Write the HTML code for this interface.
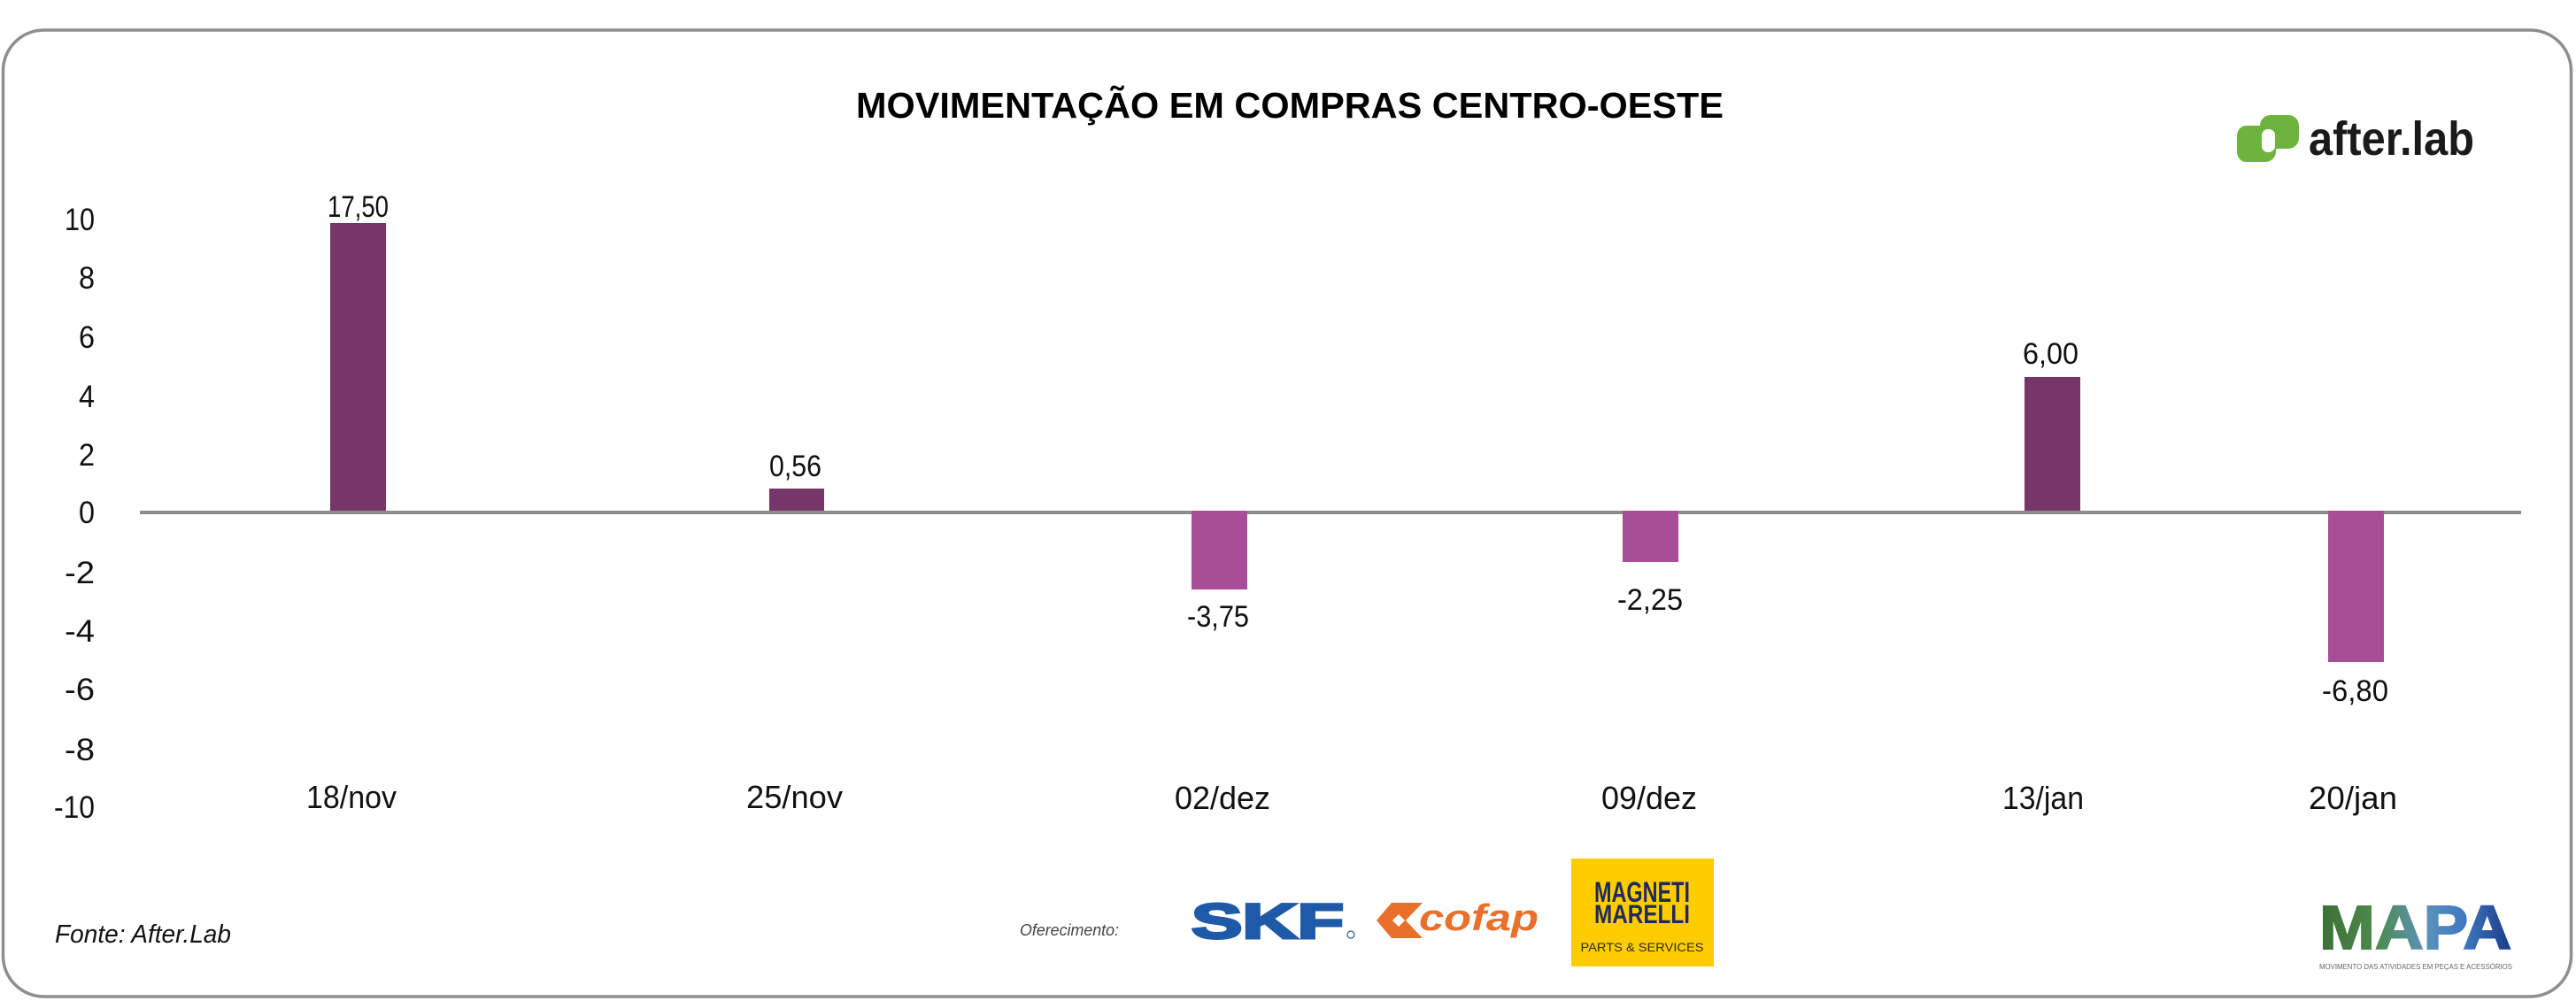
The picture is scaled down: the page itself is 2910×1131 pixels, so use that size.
<!DOCTYPE html>
<html>
<head>
<meta charset="utf-8">
<style>
  html,body{margin:0;padding:0;background:#fff;}
  svg{display:block;}
  text{font-family:"Liberation Sans",sans-serif;}
</style>
</head>
<body>
<svg width="2910" height="1131" viewBox="0 0 2910 1131" xmlns="http://www.w3.org/2000/svg">
  <defs>
    <linearGradient id="mapa" x1="2620" y1="0" x2="2837" y2="0" gradientUnits="userSpaceOnUse">
      <stop offset="0" stop-color="#3c6f35"/>
      <stop offset="0.3" stop-color="#4d8a4f"/>
      <stop offset="0.55" stop-color="#5b93b8"/>
      <stop offset="0.75" stop-color="#3f79c2"/>
      <stop offset="1" stop-color="#1c3a86"/>
    </linearGradient>
  </defs>
  <rect x="0" y="0" width="2910" height="1131" fill="#fff"/>
  <!-- border -->
  <rect x="3.5" y="34" width="2901" height="1092" rx="46" ry="46" fill="none" stroke="#8e8e8e" stroke-width="3.5"/>

  <!-- title -->
  <text x="967" y="133" font-size="41" font-weight="bold" fill="#000" textLength="980" lengthAdjust="spacingAndGlyphs">MOVIMENTAÇÃO EM COMPRAS CENTRO-OESTE</text>

  <!-- after.lab logo -->
  <rect x="2527" y="142" width="44" height="41" rx="12" fill="#6db43e"/>
  <rect x="2527" y="142" width="20" height="41" fill="#6db43e" rx="12"/>
  <rect x="2553" y="130" width="44" height="38" rx="12" fill="#6db43e"/>
  <rect x="2555" y="146" width="15" height="26" rx="7" fill="#fff"/>
  <text x="2608" y="175" font-size="54" font-weight="bold" fill="#1a1a1a" textLength="187" lengthAdjust="spacingAndGlyphs">after.lab</text>

  <!-- y axis labels -->
  <g font-size="35" fill="#111" text-anchor="end">
    <text x="107" y="260" textLength="34" lengthAdjust="spacingAndGlyphs">10</text>
    <text x="107" y="326" textLength="18" lengthAdjust="spacingAndGlyphs">8</text>
    <text x="107" y="393" textLength="18" lengthAdjust="spacingAndGlyphs">6</text>
    <text x="107" y="460" textLength="18" lengthAdjust="spacingAndGlyphs">4</text>
    <text x="107" y="526" textLength="18" lengthAdjust="spacingAndGlyphs">2</text>
    <text x="107" y="591" textLength="18" lengthAdjust="spacingAndGlyphs">0</text>
    <text x="107" y="659" textLength="34" lengthAdjust="spacingAndGlyphs">-2</text>
    <text x="107" y="725" textLength="34" lengthAdjust="spacingAndGlyphs">-4</text>
    <text x="107" y="791" textLength="34" lengthAdjust="spacingAndGlyphs">-6</text>
    <text x="107" y="859" textLength="34" lengthAdjust="spacingAndGlyphs">-8</text>
    <text x="107" y="924" textLength="46" lengthAdjust="spacingAndGlyphs">-10</text>
  </g>

  <!-- positive bars -->
  <rect x="373" y="252" width="63" height="326" fill="#76366a"/>
  <rect x="869" y="552" width="62" height="26" fill="#76366a"/>
  <rect x="2287" y="426" width="63" height="152" fill="#76366a"/>

  <!-- zero line -->
  <line x1="158" y1="579" x2="2848" y2="579" stroke="#8c8c8c" stroke-width="4"/>

  <!-- negative bars -->
  <rect x="1346" y="577" width="63" height="89" fill="#a74e97"/>
  <rect x="1833" y="577" width="63" height="58" fill="#a74e97"/>
  <rect x="2630" y="577" width="63" height="171" fill="#a74e97"/>

  <!-- data labels -->
  <g font-size="34" fill="#111" text-anchor="middle">
    <text x="404.5" y="245" textLength="69" lengthAdjust="spacingAndGlyphs">17,50</text>
    <text x="898.5" y="538" textLength="59" lengthAdjust="spacingAndGlyphs">0,56</text>
    <text x="1376" y="708" textLength="70" lengthAdjust="spacingAndGlyphs">-3,75</text>
    <text x="1864" y="689" textLength="74" lengthAdjust="spacingAndGlyphs">-2,25</text>
    <text x="2316.5" y="411" textLength="63" lengthAdjust="spacingAndGlyphs">6,00</text>
    <text x="2660.5" y="792" textLength="75" lengthAdjust="spacingAndGlyphs">-6,80</text>
  </g>

  <!-- x labels -->
  <g font-size="36" fill="#111" text-anchor="middle">
    <text x="397" y="913" textLength="102" lengthAdjust="spacingAndGlyphs">18/nov</text>
    <text x="897.5" y="913" textLength="109" lengthAdjust="spacingAndGlyphs">25/nov</text>
    <text x="1381" y="914" textLength="108" lengthAdjust="spacingAndGlyphs">02/dez</text>
    <text x="1863" y="914" textLength="108" lengthAdjust="spacingAndGlyphs">09/dez</text>
    <text x="2308" y="914" textLength="92" lengthAdjust="spacingAndGlyphs">13/jan</text>
    <text x="2658" y="914" textLength="100" lengthAdjust="spacingAndGlyphs">20/jan</text>
  </g>

  <!-- source -->
  <text x="62" y="1065" font-size="29" font-style="italic" fill="#111" textLength="199" lengthAdjust="spacingAndGlyphs">Fonte: After.Lab</text>

  <!-- sponsors -->
  <text x="1152" y="1057" font-size="18" font-style="italic" fill="#444" textLength="112" lengthAdjust="spacingAndGlyphs">Oferecimento:</text>

  <!-- SKF -->
  <text x="1346" y="1060" font-size="56" font-weight="bold" fill="#1f5aa8" stroke="#1f5aa8" stroke-width="3" textLength="172" lengthAdjust="spacingAndGlyphs">SKF</text>
  <circle cx="1526" cy="1056" r="4" fill="none" stroke="#1f5aa8" stroke-width="1.2"/>

  <!-- cofap -->
  <polygon points="1572,1020 1607,1020 1588,1040 1607,1060 1572,1060 1555,1040" fill="#e8702b"/>
  <polygon points="1580,1033 1587,1040 1580,1047 1573,1040" fill="#fff"/>
  <text x="1603" y="1051" font-size="42" font-weight="bold" font-style="italic" fill="#e8702b" textLength="135" lengthAdjust="spacingAndGlyphs">cofap</text>

  <!-- Magneti Marelli -->
  <rect x="1775" y="970" width="161" height="122" fill="#ffcc00"/>
  <text x="1855" y="1019" font-size="32" font-weight="bold" fill="#1e2b5c" text-anchor="middle" textLength="108" lengthAdjust="spacingAndGlyphs">MAGNETI</text>
  <text x="1855" y="1043" font-size="30" font-weight="bold" fill="#1e2b5c" text-anchor="middle" textLength="108" lengthAdjust="spacingAndGlyphs">MARELLI</text>
  <text x="1855" y="1075" font-size="14" fill="#2b2b2b" text-anchor="middle" textLength="139" lengthAdjust="spacingAndGlyphs">PARTS &amp; SERVICES</text>

  <!-- MAPA -->
  <text x="2620" y="1072" font-size="70" font-weight="bold" fill="url(#mapa)" stroke="url(#mapa)" stroke-width="2" textLength="217" lengthAdjust="spacingAndGlyphs">MAPA</text>
  <text x="2620" y="1095" font-size="8.5" fill="#666" textLength="218" lengthAdjust="spacingAndGlyphs">MOVIMENTO DAS ATIVIDADES EM PEÇAS E ACESSÓRIOS</text>
</svg>
</body>
</html>
